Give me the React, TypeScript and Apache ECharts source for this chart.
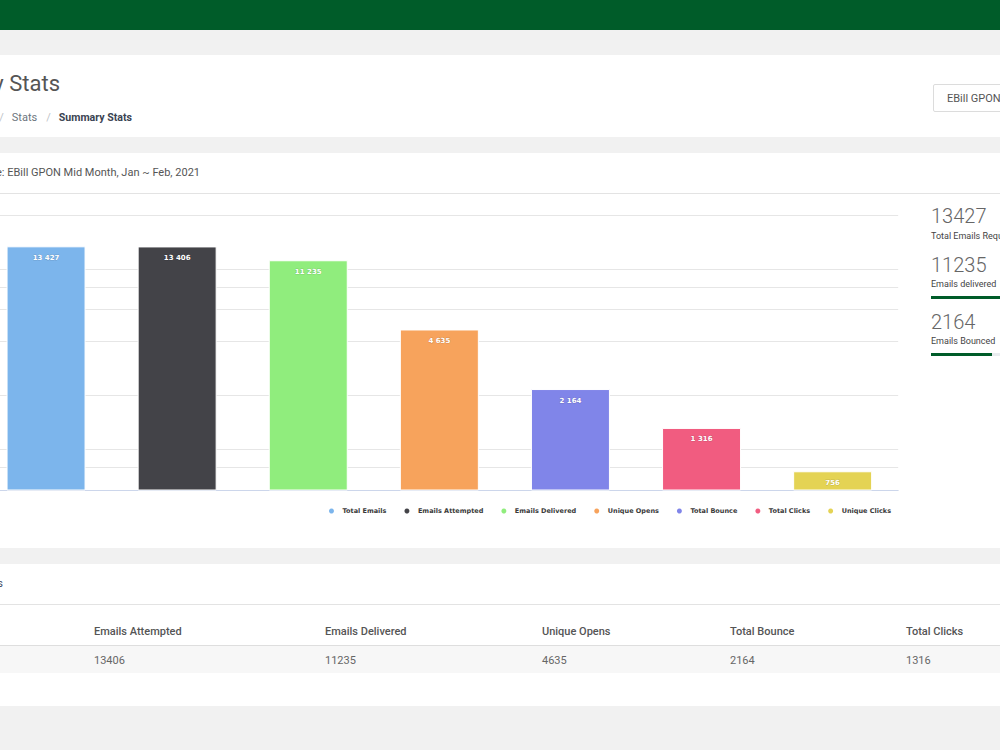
import React, { useEffect, useRef } from "react";
import * as echarts from "echarts";

const categories = [
  "Total Emails",
  "Emails Attempted",
  "Emails Delivered",
  "Unique Opens",
  "Total Bounce",
  "Total Clicks",
  "Unique Clicks",
];
const values = [13427, 13406, 11235, 4635, 2164, 1316, 756];
const colors = ["#7cb5ec", "#434348", "#90ed7d", "#f7a35c", "#8085e9", "#f15c80", "#e4d354"];
const gridValues = [800, 1000, 2000, 4000, 6000, 8000, 10000, 20000];
const statValues = [13427, 11235, 2164];
const statLabels = ["Total Emails Requested", "Emails delivered", "Emails Bounced"];
const tableHeaders = ["Total Emails", "Emails Attempted", "Emails Delivered", "Unique Opens", "Total Bounce", "Total Clicks", "Unique Clicks"];
const tableValues = [13427, 13406, 11235, 4635, 2164, 1316, 756];
const tableColX = [-140, 94, 325, 542, 730, 906, 1080];

const fmt = (v: number) => String(v).replace(/\B(?=(\d{3})+(?!\d))/g, " ");

const GREEN = "#005c29";
const BG = "#f1f1f1";

function Chart() {
  const ref = useRef<HTMLDivElement>(null);
  useEffect(() => {
    if (!ref.current) return;
    const chart = echarts.init(ref.current, undefined, { renderer: "svg" });
    const series: any[] = categories.map((name, i) => ({
      name,
      type: "bar",
      z: 10,
      clip: true,
      data: values.map((v, j) => (j === i ? v : "-")),
      barWidth: 79,
      barGap: "-100%",
      itemStyle: { color: colors[i], borderColor: "#ffffff", borderWidth: 1 },
      label: {
        show: true,
        position: "insideTop",
        distance: 8,
        color: "#ffffff",
        fontSize: 7,
        fontWeight: "bold",
        fontFamily: "DejaVu Sans",
        textBorderColor: "rgba(0,0,0,0.15)",
        textBorderWidth: 1,
        formatter: (p: any) => fmt(p.value),
      },
      emphasis: { disabled: true },
    }));
    series.push({
      name: "grid",
      type: "line",
      z: 1,
      data: [],
      silent: true,
      markLine: {
        silent: true,
        symbol: "none",
        label: { show: false },
        lineStyle: { color: "#e6e6e6", width: 1, type: "solid" },
        emphasis: { disabled: true },
        data: gridValues.map((v) => ({ yAxis: v })),
      },
    });
    chart.setOption({
      animation: false,
      grid: { left: 0.5, right: 21.8, top: 6.9, bottom: 58, containLabel: false },
      xAxis: {
        type: "category",
        data: categories,
        axisLine: { show: true, lineStyle: { color: "#ccd6eb", width: 1 } },
        axisTick: { show: false },
        axisLabel: { show: false },
        splitLine: { show: false },
      },
      yAxis: {
        type: "log",
        logBase: 10,
        min: 595,
        max: 24000,
        axisLine: { show: false },
        axisTick: { show: false },
        axisLabel: { show: false },
        splitLine: { show: false },
      },
      legend: {
        data: categories,
        top: 312.5,
        right: 29,
        padding: 0,
        icon: "circle",
        itemWidth: 12,
        itemHeight: 7,
        itemGap: 16,
        textStyle: { fontSize: 6.5, fontWeight: 600, color: "#3a3a3a", fontFamily: "DejaVu Sans" },
        selectedMode: false,
      },
      series,
    });
    return () => chart.dispose();
  }, []);
  return (
    <div
      ref={ref}
      style={{ position: "absolute", left: -20, top: 194, width: 940, height: 354 }}
    />
  );
}

export default function App() {
  useEffect(() => {
    document.body.style.margin = "0";
  }, []);
  const abs = (extra: React.CSSProperties): React.CSSProperties => ({
    position: "absolute",
    whiteSpace: "nowrap",
    ...extra,
  });
  const track = 380;
  return (
    <div
      style={{
        position: "fixed",
        left: 0,
        top: 0,
        width: 1000,
        height: 750,
        overflow: "hidden",
        background: BG,
        fontFamily: "Roboto, 'Noto Sans', sans-serif",
      }}
    >
      <div style={abs({ left: 0, top: 0, width: 1000, height: 30, background: GREEN })} />

      {/* Card 1 */}
      <div style={abs({ left: 0, top: 55, width: 1000, height: 82, background: "#fff" })} />
      <div style={abs({ right: 940, top: 69, lineHeight: "30px", fontSize: 22, color: "#555", fontWeight: 400 })}>
        Summary Stats
      </div>
      <div style={abs({ right: 868, top: 110, lineHeight: "16px", fontSize: 11, color: "#6c757d" })}>
        <span>Home</span>
        <span style={{ margin: "0 8px", color: "#c0c4c8" }}>/</span>
        <span>Stats</span>
        <span style={{ margin: "0 8px 0 9px", color: "#c0c4c8" }}>/</span>
        <span style={{ fontWeight: 700, color: "#3a4352", fontSize: 10.6 }}>Summary Stats</span>
      </div>
      <div
        style={abs({
          left: 933,
          top: 84,
          width: 120,
          height: 26,
          border: "1px solid #dcdcdc",
          borderRadius: 2,
          background: "#fff",
        })}
      />
      <div style={abs({ left: 947, top: 91, lineHeight: "16px", fontSize: 11, color: "#555" })}>
        EBill GPON Mid Month
      </div>

      {/* Card 2 */}
      <div style={abs({ left: 0, top: 153, width: 1000, height: 395, background: "#fff" })} />
      <div style={abs({ right: 800, top: 165, lineHeight: "16px", fontSize: 11, color: "#555" })}>
        Campaign Name: EBill GPON Mid Month, Jan ~ Feb, 2021
      </div>
      <div style={abs({ left: 0, top: 193, width: 1000, height: 1, background: "#e3e3e3" })} />
      <Chart />
      {statValues.map((v, i) => {
        const tops = [216, 265, 322];
        const ltops = [236, 284, 341];
        return (
          <React.Fragment key={i}>
            <div style={abs({ left: 931, top: tops[i] - 13, lineHeight: "26px", fontSize: 20, color: "#666", fontWeight: 300 })}>
              {v}
            </div>
            <div style={abs({ left: 931, top: ltops[i] - 6, lineHeight: "12px", fontSize: 9, color: "#444" })}>
              {statLabels[i]}
            </div>
          </React.Fragment>
        );
      })}
      {[1, 2].map((k) => {
        const y = k === 1 ? 296 : 352.5;
        const w = (statValues[k] / statValues[0]) * track;
        return (
          <React.Fragment key={k}>
            <div style={abs({ left: 931, top: y, width: track, height: 3, background: "#e9ecef" })} />
            <div style={abs({ left: 931, top: y, width: w, height: 3, background: GREEN })} />
          </React.Fragment>
        );
      })}

      {/* Card 3 */}
      <div style={abs({ left: 0, top: 564, width: 1000, height: 142, background: "#fff" })} />
      <div style={abs({ right: 997, top: 576, lineHeight: "16px", fontSize: 11, color: "#3c4b64" })}>
        Summary Stats
      </div>
      <div style={abs({ left: 0, top: 604, width: 1000, height: 1, background: "#e3e3e3" })} />
      <div style={abs({ left: 0, top: 645, width: 1000, height: 1, background: "#dedede" })} />
      <div style={abs({ left: 0, top: 646, width: 1000, height: 27, background: "#f7f7f7" })} />
      {tableHeaders.map((h, i) => (
        <div key={h} style={abs({ left: tableColX[i], top: 624, lineHeight: "16px", fontSize: 11, color: "#555", fontWeight: 500 })}>
          {h}
        </div>
      ))}
      {tableValues.map((v, i) => (
        <div key={i} style={abs({ left: tableColX[i], top: 653, lineHeight: "16px", fontSize: 11, color: "#666" })}>
          {v}
        </div>
      ))}
    </div>
  );
}
